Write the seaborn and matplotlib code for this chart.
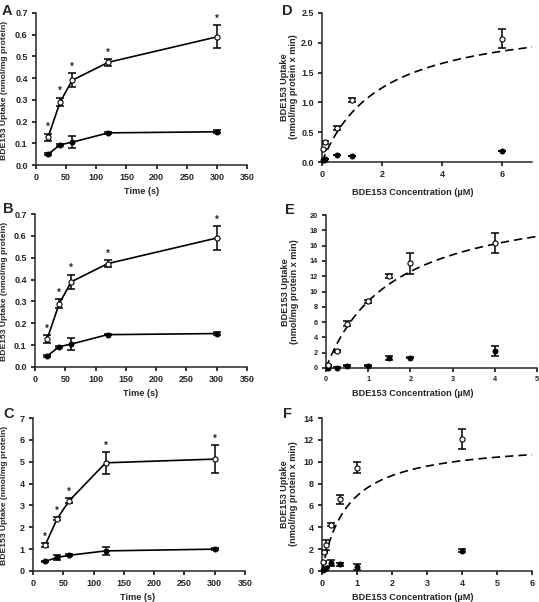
import numpy as np
import pandas as pd
import matplotlib
matplotlib.use("Agg")
import matplotlib.pyplot as plt
import seaborn as sns

# ---------------- data ----------------
time_s = [20, 40, 60, 120, 300]

a_open = [0.128, 0.290, 0.390, 0.473, 0.590]
a_open_err = [0.017, 0.020, 0.033, 0.015, 0.053]
a_closed = [0.050, 0.093, 0.105, 0.148, 0.153]
a_closed_err = [0.006, 0.004, 0.027, 0.003, 0.007]

b_open = [0.128, 0.290, 0.390, 0.473, 0.590]
b_open_err = [0.017, 0.020, 0.033, 0.015, 0.053]
b_closed = [0.050, 0.093, 0.105, 0.148, 0.153]
b_closed_err = [0.006, 0.004, 0.027, 0.003, 0.007]

c_open = [1.18, 2.40, 3.22, 4.95, 5.12]
c_open_err = [0.10, 0.08, 0.12, 0.50, 0.64]
c_closed = [0.44, 0.62, 0.72, 0.92, 1.00]
c_closed_err = [0.03, 0.12, 0.04, 0.18, 0.03]

d_conc_open = [0.025, 0.1, 0.5, 1.0, 6.0]
d_open = [0.21, 0.33, 0.57, 1.04, 2.07]
d_open_err = [0.01, 0.02, 0.04, 0.04, 0.16]
d_conc_closed = [0.025, 0.05, 0.1, 0.5, 1.0, 6.0]
d_closed = [0.03, 0.04, 0.05, 0.12, 0.10, 0.19]
d_closed_err = [0.0, 0.0, 0.0, 0.0, 0.0, 0.0]
d_km, d_vmax = 1.97, 2.47

e_conc = [0.05, 0.25, 0.5, 1.0, 1.5, 2.0, 4.0]
e_open = [0.35, 2.25, 5.8, 8.7, 12.0, 13.7, 16.3]
e_open_err = [0.1, 0.1, 0.3, 0.2, 0.3, 1.35, 1.3]
e_closed = [0.05, 0.05, 0.3, 0.3, 1.3, 1.35, 2.25]
e_closed_err = [0.02, 0.02, 0.05, 0.1, 0.25, 0.1, 0.65]
e_km, e_vmax = 1.6, 22.7

f_conc = [0.025, 0.05, 0.1, 0.25, 0.5, 1.0, 4.0]
f_open = [0.8, 1.75, 2.35, 4.25, 6.55, 9.45, 12.05]
f_open_err = [0.1, 0.1, 0.45, 0.1, 0.4, 0.5, 0.9]
f_closed = [0.1, 0.2, 0.3, 0.75, 0.6, 0.37, 1.85]
f_closed_err = [0.05, 0.05, 0.05, 0.3, 0.15, 0.3, 0.15]
f_km, f_vmax = 0.74, 11.96

time_label = "Time (s)"
time_ylabel = "BDE153 Uptake (nmol/mg protein)"
conc_label = "BDE153 Concentration (\u00b5M)"
conc_ylabel = "BDE153 Uptake\n(nmol/mg protein x min)"

# ---------------- style ----------------
sns.set_style("ticks")
plt.rcParams["font.family"] = ["Liberation Sans", "DejaVu Sans"]
plt.rcParams["font.weight"] = "bold"
plt.rcParams["axes.linewidth"] = 1.1
plt.rcParams["xtick.major.width"] = 1.1
plt.rcParams["ytick.major.width"] = 1.1
plt.rcParams["xtick.major.size"] = 3
plt.rcParams["ytick.major.size"] = 3
plt.rcParams["xtick.major.pad"] = 3
plt.rcParams["ytick.major.pad"] = 3

W, H = 539, 602
fig = plt.figure(figsize=(W / 100, H / 100), dpi=100)


def px_axes(x0, y0, x1, y1):
    return fig.add_axes([x0 / W, 1 - y1 / H, (x1 - x0) / W, (y1 - y0) / H])


def ftext(x, y, s, **kw):
    fig.text(x / W, 1 - y / H, s, **kw)


MS = 3.7


def style_axes(ax, xlim, xticks, ylim, yticks, yfmt, fs=6.5):
    ax.set_xlim(*xlim)
    ax.set_ylim(*ylim)
    ax.set_xticks(xticks)
    ax.set_yticks(yticks)
    ax.set_yticklabels([yfmt.format(v) for v in yticks], fontsize=fs, fontweight="bold")
    ax.set_xticklabels([str(v) for v in xticks], fontsize=fs, fontweight="bold")
    for s in ["top", "right"]:
        ax.spines[s].set_visible(False)
    ax.set_xlabel("")
    ax.set_ylabel("")
    ax.tick_params(direction="out", color="black")


def time_panel(ax, op, ope, cl, cle, ylim, yticks, yfmt, star_off):
    df = pd.DataFrame({"t": time_s * 2, "v": op + cl,
                       "g": ["open"] * len(op) + ["closed"] * len(cl)})
    sns.lineplot(data=df, x="t", y="v", units="g", estimator=None,
                 color="black", lw=1.2, ax=ax, zorder=1)
    ax.errorbar(time_s, op, yerr=ope, fmt="none", ecolor="black",
                elinewidth=1.1, capsize=2.6, capthick=1.1, zorder=2)
    ax.errorbar(time_s, cl, yerr=cle, fmt="none", ecolor="black",
                elinewidth=1.1, capsize=2.6, capthick=1.1, zorder=2)
    sns.scatterplot(x=time_s, y=cl, color="black", edgecolor="black",
                    s=MS ** 2, linewidth=0.6, ax=ax, zorder=3, legend=False)
    sns.scatterplot(x=time_s, y=op, color="white", edgecolor="black",
                    s=MS ** 2, linewidth=0.8, ax=ax, zorder=3, legend=False)
    for t, v, e in zip(time_s, op, ope):
        ax.annotate("*", (t, v + e), xytext=(0, star_off), textcoords="offset points",
                    ha="center", va="bottom", fontsize=7, fontweight="bold")
    style_axes(ax, (0, 350), list(range(0, 351, 50)), ylim, yticks, yfmt)


def conc_panel(ax, xc_o, op, ope, xc_c, cl, cle, km, vmax, xlim, xticks,
               ylim, yticks, yfmt, fs=6.5):
    xs = np.linspace(0, xlim[1], 300)
    fit = pd.DataFrame({"x": xs, "y": vmax * xs / (km + xs)})
    sns.lineplot(data=fit, x="x", y="y", color="black", lw=1.2,
                 linestyle=(0, (5, 3)), ax=ax, zorder=1)
    ax.errorbar(xc_o, op, yerr=ope, fmt="none", ecolor="black",
                elinewidth=1.1, capsize=2.6, capthick=1.1, zorder=2)
    ax.errorbar(xc_c, cl, yerr=cle, fmt="none", ecolor="black",
                elinewidth=1.1, capsize=2.6, capthick=1.1, zorder=2)
    sns.scatterplot(x=xc_c, y=cl, color="black", edgecolor="black",
                    s=MS ** 2, linewidth=0.6, ax=ax, zorder=3, legend=False)
    sns.scatterplot(x=xc_o, y=op, color="white", edgecolor="black",
                    s=MS ** 2, linewidth=0.8, ax=ax, zorder=3, legend=False)
    for c in ax.collections:
        c.set_clip_on(False)
    style_axes(ax, xlim, xticks, ylim, yticks, yfmt, fs)


# ---- left column ----
axA = px_axes(36, 13, 247, 165)
time_panel(axA, a_open, a_open_err, a_closed, a_closed_err, (0, 0.7),
           [round(0.1 * i, 1) for i in range(8)], "{:.1f}", 1)
axB = px_axes(35, 214, 247, 367)
time_panel(axB, b_open, b_open_err, b_closed, b_closed_err, (0, 0.7),
           [round(0.1 * i, 1) for i in range(8)], "{:.1f}", 1)
axC = px_axes(33, 418, 245, 571)
time_panel(axC, c_open, c_open_err, c_closed, c_closed_err, (0, 7),
           list(range(8)), "{:d}", 1)

# ---- right column ----
axD = px_axes(322, 13, 532, 162)
conc_panel(axD, d_conc_open, d_open, d_open_err, d_conc_closed, d_closed, d_closed_err,
           d_km, d_vmax, (0, 7), [0, 2, 4, 6], (0, 2.5),
           [0.0, 0.5, 1.0, 1.5, 2.0, 2.5], "{:.1f}")
axE = px_axes(326, 215, 537, 368)
conc_panel(axE, e_conc, e_open, e_open_err, e_conc, e_closed, e_closed_err,
           e_km, e_vmax, (0, 5), [0, 1, 2, 3, 4, 5], (0, 20),
           list(range(0, 21, 2)), "{:d}", fs=5.3)
axF = px_axes(322, 418, 532, 571)
conc_panel(axF, f_conc, f_open, f_open_err, f_conc, f_closed, f_closed_err,
           f_km, f_vmax, (0, 6), [0, 1, 2, 3, 4, 5, 6], (0, 14),
           list(range(0, 15, 2)), "{:d}")

# ---- labels ----
lab = dict(fontsize=6.6, fontweight="bold", ha="center", va="center")
ylab = dict(fontsize=6.1, fontweight="bold", ha="center", va="center")
ftext(5, 90, time_ylabel, rotation=90, **ylab)
ftext(5, 291, time_ylabel, rotation=90, **ylab)
ftext(5, 495, time_ylabel, rotation=90, **ylab)
ftext(142, 192, time_label, **lab)
ftext(141, 393, time_label, **lab)
ftext(138, 597, time_label, **lab)

ftext(289, 87, conc_ylabel, rotation=90, linespacing=1.05, **lab)
ftext(290, 292, conc_ylabel, rotation=90, linespacing=1.05, **lab)
ftext(289, 494, conc_ylabel, rotation=90, linespacing=1.05, **lab)
ftext(413, 193, conc_label, **lab)
ftext(413, 393, conc_label, **lab)
ftext(413, 597, conc_label, **lab)

letter = dict(fontsize=10.5, fontweight="bold", ha="left", va="baseline")
ftext(2, 15, "A", **letter)
ftext(3, 213, "B", **letter)
ftext(3, 418, "C", **letter)
ftext(282, 15, "D", **letter)
ftext(285, 214, "E", **letter)
ftext(283, 418, "F", **letter)

fig.savefig("out.png", dpi=100)
